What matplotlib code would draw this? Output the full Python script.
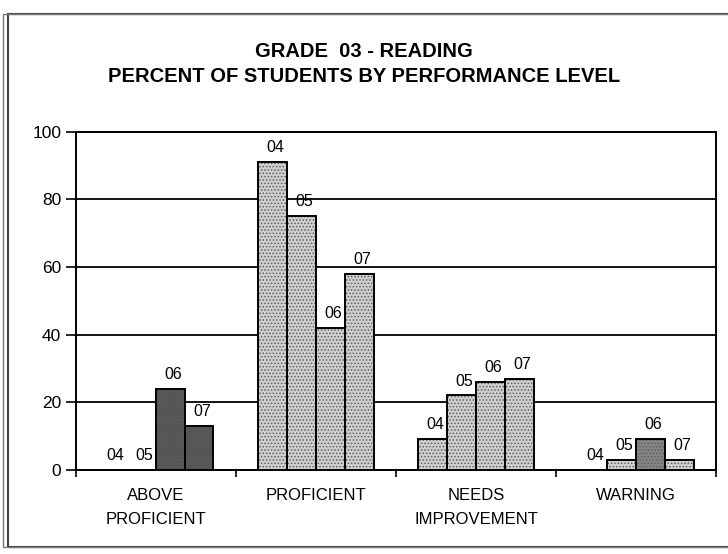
import numpy as np
import matplotlib
matplotlib.use("Agg")
import matplotlib.pyplot as plt
from matplotlib.patches import Rectangle

plt.rcParams['font.family'] = ['Liberation Sans', 'DejaVu Sans']
plt.rcParams['hatch.linewidth'] = 0.7

# data
categories = ["ABOVE\nPROFICIENT", "PROFICIENT", "NEEDS\nIMPROVEMENT", "WARNING"]
years = ["04", "05", "06", "07"]
above_proficient = [0, 0, 24, 13]
proficient = [91, 75, 42, 58]
needs_improvement = [9, 22, 26, 27]
warning = [0, 3, 9, 3]
values = [above_proficient, proficient, needs_improvement, warning]

# fill per category/year (dark for above proficient, light otherwise)
fills = [["#555555"] * 4,
         ["#cfcfcf"] * 4,
         ["#cfcfcf"] * 4,
         ["#cfcfcf", "#cfcfcf", "#858585", "#cfcfcf"]]

fig = plt.figure(figsize=(7.28, 5.54), dpi=100)
ax = fig.add_axes([0.104, 0.152, 0.88, 0.61])

bw = 0.18
x = np.arange(len(categories))
for i, cat_vals in enumerate(values):
    for j, v in enumerate(cat_vals):
        xpos = x[i] + (j - 1.5) * bw
        # stippled look: hatch in grey, then black outline on top
        ax.bar(xpos, v, bw, color=fills[i][j], hatch='.....',
               edgecolor='#5e5e5e', linewidth=0, zorder=3)
        ax.bar(xpos, v, bw, fill=False, edgecolor='black',
               linewidth=1.4, zorder=4)
        ax.annotate(years[j], (xpos, v), xytext=(2, 5), textcoords='offset points',
                    ha='center', va='bottom', fontsize=11.5, zorder=5)

ax.set_xlim(-0.5, 3.5)
ax.set_ylim(0, 100)
ax.set_yticks(range(0, 101, 20))
ax.set_yticklabels([str(t) for t in range(0, 101, 20)], fontsize=12.5)
ax.yaxis.grid(True, color='black', linewidth=1.3, zorder=0)
ax.set_axisbelow(True)

# ticks between categories, labels centred under each group
ax.set_xticks(np.arange(-0.5, 3.6, 1))
ax.set_xticklabels([])
ax.set_xticks(x, minor=True)
ax.set_xticklabels(categories, minor=True, fontsize=12, linespacing=1.75)
ax.tick_params(axis='x', which='minor', length=0, pad=13)
ax.tick_params(axis='x', which='major', length=5, width=1.2, direction='out')
ax.tick_params(axis='y', length=7, width=1.2, direction='out')
for s in ax.spines.values():
    s.set_linewidth(1.4)

fig.text(0.5, 0.907, "GRADE  03 - READING", ha='center', va='center',
         fontsize=14.5, fontweight='bold')
fig.text(0.5, 0.862, "PERCENT OF STUDENTS BY PERFORMANCE LEVEL", ha='center',
         va='center', fontsize=14.5, fontweight='bold')

# scanned page frame
fig.patches.append(Rectangle((0.011, 0.012), 1.2, 0.962, transform=fig.transFigure,
                             fill=False, edgecolor='#444444', linewidth=1.5))
fig.patches.append(Rectangle((0.004, 0.012), 1.2, 0.962, transform=fig.transFigure,
                             fill=False, edgecolor='#777777', linewidth=1.0))

fig.savefig("out.png", dpi=100)
